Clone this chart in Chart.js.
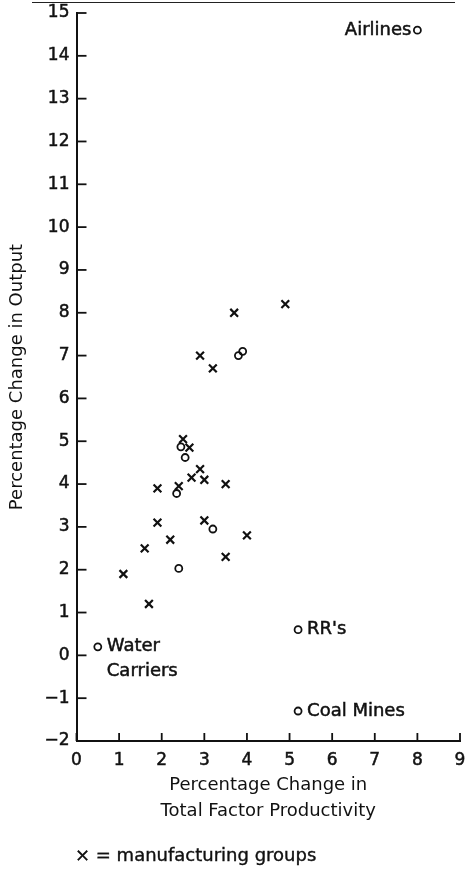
<!DOCTYPE html>
<html>
<head>
<meta charset="utf-8">
<script src="https://cdn.jsdelivr.net/npm/chart.js@4"></script>
<style>
  body { margin: 0; background: #fff; }
  #wrap { position: relative; width: 471px; height: 871px; }
  #rule { position: absolute; left: 32px; top: 2px; width: 423px; border-top: 1.5px solid #222; }
  #note { position: absolute; left: 75px; top: 845px; font: 18px "DejaVu Sans"; line-height: 20px; color: #111; -webkit-text-stroke: 0.4px #111; }
</style>
</head>
<body>
<div id="wrap">
  <canvas id="chart" width="471" height="871"></canvas>
  <div id="rule"></div>
  <div id="note">× = manufacturing groups</div>
</div>
<script>
// manufacturing groups (x marks)
const mfgX = [3.7, 4.9, 2.9, 3.2, 2.5, 2.65, 2.9, 2.7, 3.0, 3.5, 1.9, 2.4, 1.9, 3.0, 4.0, 2.2, 1.6, 3.5, 1.1, 1.7];
const mfgY = [8.0, 8.2, 7.0, 6.7, 5.05, 4.85, 4.35, 4.15, 4.1, 4.0, 3.9, 3.95, 3.1, 3.15, 2.8, 2.7, 2.5, 2.3, 1.9, 1.2];

// other industries (circles)
const otherX = [8.0, 0.5, 5.2, 5.2, 2.45, 2.55, 2.35, 3.2, 2.4, 3.8, 3.9];
const otherY = [14.6, 0.2, 0.6, -1.3, 4.87, 4.62, 3.78, 2.95, 2.03, 7.0, 7.1];
const otherNames = ['Airlines', 'Water\nCarriers', "RR's", 'Coal Mines', '', '', '', '', '', '', ''];

const xMin = 0, xMax = 9;
const yMin = -2, yMax = 15;

const ink = '#111';
const fontFamily = '"DejaVu Sans"';

// inward tick marks on both axes
const inwardTicks = {
  id: 'inwardTicks',
  afterDraw(chart) {
    const ctx = chart.ctx;
    const x = chart.scales.x, y = chart.scales.y;
    const area = chart.chartArea;
    ctx.save();
    ctx.strokeStyle = ink;
    ctx.lineWidth = 1.8;
    x.ticks.forEach((t) => {
      const px = x.getPixelForValue(t.value);
      ctx.beginPath();
      ctx.moveTo(px, area.bottom);
      ctx.lineTo(px, area.bottom - 8);
      ctx.stroke();
    });
    y.ticks.forEach((t) => {
      const py = y.getPixelForValue(t.value);
      ctx.beginPath();
      ctx.moveTo(area.left, py);
      ctx.lineTo(area.left + 10, py);
      ctx.stroke();
    });
    ctx.restore();
  }
};

// names next to the labelled circles
const pointNames = {
  id: 'pointNames',
  afterDatasetsDraw(chart) {
    const ctx = chart.ctx;
    const meta = chart.getDatasetMeta(1);
    ctx.save();
    ctx.fillStyle = ink;
    ctx.strokeStyle = ink;
    ctx.lineWidth = 0.5;
    ctx.font = '18px ' + fontFamily;
    ctx.textBaseline = 'middle';
    const put = (txt, x, y) => { ctx.fillText(txt, x, y); ctx.strokeText(txt, x, y); };
    meta.data.forEach((pt, i) => {
      const name = otherNames[i];
      if (!name) return;
      const lines = name.split('\n');
      if (i === 0) {
        ctx.textAlign = 'right';
        put(lines[0], pt.x - 6, pt.y);
      } else {
        ctx.textAlign = 'left';
        lines.forEach((ln, k) => put(ln, pt.x + 9, pt.y + k * 25));
      }
    });
    ctx.restore();
  }
};

const ctx = document.getElementById('chart').getContext('2d');
new Chart(ctx, {
  type: 'scatter',
  data: {
    datasets: [
      {
        label: 'manufacturing groups',
        data: mfgX.map((v, i) => ({ x: v, y: mfgY[i] })),
        pointStyle: 'crossRot',
        pointRadius: 5.5,
        borderWidth: 2.2,
        borderColor: ink,
        backgroundColor: ink,
      },
      {
        label: 'other industries',
        data: otherX.map((v, i) => ({ x: v, y: otherY[i] })),
        pointStyle: 'circle',
        pointRadius: 3.5,
        borderWidth: 1.8,
        borderColor: ink,
        backgroundColor: 'rgba(0,0,0,0)',
      },
    ],
  },
  options: {
    responsive: false,
    animation: false,
    devicePixelRatio: 1,
    layout: { padding: { left: 0, right: 11, top: 13, bottom: 40 } },
    plugins: {
      legend: { display: false },
      tooltip: { enabled: false },
    },
    scales: {
      x: {
        type: 'linear',
        min: xMin,
        max: xMax,
        ticks: {
          stepSize: 1,
          padding: 9,
          color: ink,
          textStrokeColor: ink,
          textStrokeWidth: 0.5,
          font: { family: fontFamily, size: 17 },
        },
        grid: { drawOnChartArea: false, drawTicks: false },
        border: { color: ink, width: 2 },
        title: {
          display: true,
          text: ['Percentage Change in', 'Total Factor Productivity'],
          color: ink,
          font: { family: fontFamily, size: 18, lineHeight: 26 / 18 },
          padding: { top: 0, bottom: 7 },
        },
        afterFit: (s) => { s.height = 90; s.paddingLeft = 0; s.paddingRight = 0; },
      },
      y: {
        type: 'linear',
        min: yMin,
        max: yMax,
        ticks: {
          stepSize: 1,
          padding: 7,
          color: ink,
          textStrokeColor: ink,
          textStrokeWidth: 0.5,
          font: { family: fontFamily, size: 17 },
          callback: (v) => (v < 0 ? '\u2212' + Math.abs(v) : String(v)),
        },
        grid: { drawOnChartArea: false, drawTicks: false },
        border: { color: ink, width: 2 },
        title: {
          display: true,
          text: 'Percentage Change in Output',
          color: ink,
          font: { family: fontFamily, size: 18 },
          padding: { top: 7, bottom: 0 },
        },
        afterFit: (s) => { s.width = 76.5; s.paddingTop = 0; s.paddingBottom = 0; },
      },
    },
  },
  plugins: [inwardTicks, pointNames],
});
</script>
</body>
</html>
